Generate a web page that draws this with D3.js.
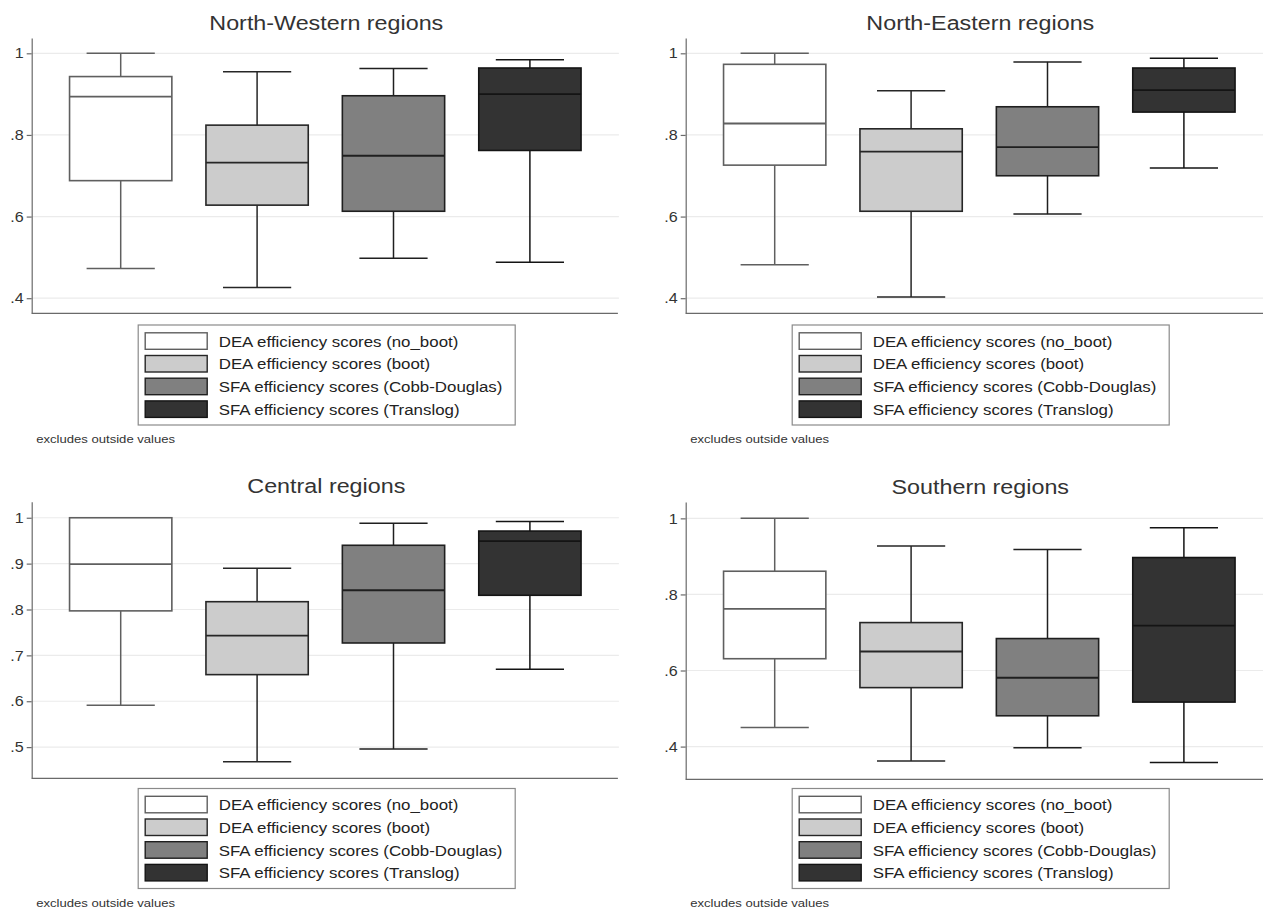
<!DOCTYPE html>
<html>
<head>
<meta charset="utf-8">
<script src="https://cdn.jsdelivr.net/npm/d3@7"></script>
<style>
  html, body { margin: 0; padding: 0; background: #fff; }
  svg { display: block; font-family: "Liberation Sans", Arial, sans-serif; }
</style>
</head>
<body>
<svg id="chart" width="1263" height="911"></svg>
<script>
// Efficiency score series (box order within each panel)
const seriesNames = [
  "DEA efficiency scores (no_boot)",
  "DEA efficiency scores (boot)",
  "SFA efficiency scores (Cobb-Douglas)",
  "SFA efficiency scores (Translog)"
];

const regionTitles = ["North-Western regions", "North-Eastern regions", "Central regions", "Southern regions"];

// Box statistics per series: [lower adjacent, q1, median, q3, upper adjacent]
const northWesternStats = [
  [0.473, 0.688, 0.894, 0.943, 1.000],
  [0.426, 0.628, 0.732, 0.824, 0.955],
  [0.498, 0.613, 0.749, 0.896, 0.963],
  [0.488, 0.762, 0.900, 0.964, 0.984]
];
const northEasternStats = [
  [0.482, 0.726, 0.828, 0.973, 1.000],
  [0.403, 0.613, 0.759, 0.815, 0.908],
  [0.606, 0.700, 0.770, 0.869, 0.979],
  [0.719, 0.856, 0.910, 0.964, 0.988]
];
const centralStats = [
  [0.591, 0.797, 0.899, 1.000, 1.000],
  [0.468, 0.658, 0.743, 0.817, 0.890],
  [0.496, 0.727, 0.842, 0.940, 0.988],
  [0.670, 0.831, 0.949, 0.971, 0.992]
];
const southernStats = [
  [0.450, 0.631, 0.762, 0.861, 1.000],
  [0.362, 0.555, 0.650, 0.726, 0.927],
  [0.397, 0.481, 0.581, 0.684, 0.918],
  [0.358, 0.517, 0.718, 0.897, 0.975]
];

// Y-axis tick values per panel
const ticksNorthWestern = [0.4, 0.6, 0.8, 1];
const ticksNorthEastern = [0.4, 0.6, 0.8, 1];
const ticksCentral = [0.5, 0.6, 0.7, 0.8, 0.9, 1];
const ticksSouthern = [0.4, 0.6, 0.8, 1];

const noteText = "excludes outside values";

// Fill / outline styling for each series
const styles = [
  { fill: "#ffffff", stroke: "#5f5f5f" },
  { fill: "#cccccc", stroke: "#262626" },
  { fill: "#808080", stroke: "#1f1f1f" },
  { fill: "#333333", stroke: "#141414" }
];

// Text is set slightly wide, as in the exported graph
const stretch = 1.11;

// Panel geometry
const panels = [
  { title: regionTitles[0], stats: northWesternStats, ticks: ticksNorthWestern,
    left: 31.7, top: 38, bottom: 313.3, domain: [0.363, 1.0375], titleY: 29.5, legendTop: 325, noteY: 443 },
  { title: regionTitles[1], stats: northEasternStats, ticks: ticksNorthEastern,
    left: 685.7, top: 38, bottom: 313.3, domain: [0.363, 1.0375], titleY: 29.5, legendTop: 325, noteY: 443 },
  { title: regionTitles[2], stats: centralStats, ticks: ticksCentral,
    left: 31.7, top: 501.7, bottom: 778.3, domain: [0.432, 1.035], titleY: 492.5, legendTop: 788.5, noteY: 907 },
  { title: regionTitles[3], stats: southernStats, ticks: ticksSouthern,
    left: 685.7, top: 502, bottom: 779.3, domain: [0.314, 1.043], titleY: 493.5, legendTop: 788.5, noteY: 907 }
];

const plotWidth = 587.2;
const svg = d3.select("#chart");

const tickFmt = d => d === 1 ? "1" : d3.format(".1f")(d).replace(/^0/, "");

// Places a horizontally stretched text at (x, y)
function wideText(sel, x, y) {
  return sel.append("text").attr("transform", `translate(${x},${y}) scale(${stretch},1)`);
}

panels.forEach(p => {
  const g = svg.append("g");
  const right = p.left + plotWidth;

  const x = d3.scalePoint()
    .domain(seriesNames)
    .range([p.left, right])
    .padding(0.6525);
  const y = d3.scaleLinear().domain(p.domain).range([p.bottom, p.top]);

  const boxW = x.step() * 0.75;
  const capW = x.step() * 0.5;

  // Title
  wideText(g, (p.left + right) / 2 + 1, p.titleY)
    .attr("text-anchor", "middle")
    .attr("font-size", 21)
    .attr("fill", "#333")
    .text(p.title);

  // Gridlines
  g.append("g").selectAll("line").data(p.ticks).join("line")
    .attr("x1", p.left).attr("x2", right)
    .attr("y1", d => y(d)).attr("y2", d => y(d))
    .attr("stroke", "#ebebeb").attr("stroke-width", 1.2);

  // Left axis
  const ax = g.append("g")
    .attr("transform", `translate(${p.left},0)`)
    .call(d3.axisLeft(y).tickValues(p.ticks).tickFormat(tickFmt).tickSize(5).tickSizeOuter(0));
  ax.select(".domain").attr("stroke", "#6a6a6a").attr("stroke-width", 1.2);
  ax.selectAll(".tick line").attr("stroke", "#6a6a6a").attr("stroke-width", 1.2);
  ax.selectAll(".tick text")
    .attr("font-size", 14.5)
    .attr("font-family", "Liberation Sans, Arial, sans-serif")
    .attr("fill", "#333")
    .attr("x", -8 / stretch)
    .attr("transform", `scale(${stretch},1)`);

  // Bottom axis line
  g.append("line")
    .attr("x1", p.left).attr("x2", right - 1)
    .attr("y1", p.bottom).attr("y2", p.bottom)
    .attr("stroke", "#6a6a6a").attr("stroke-width", 1.2);

  // Boxes
  const boxes = g.append("g").selectAll("g").data(p.stats).join("g");
  boxes.each(function (s, i) {
    const b = d3.select(this);
    const cx = x(seriesNames[i]);
    const st = styles[i];
    const [lo, q1, med, q3, hi] = s;
    // whiskers
    b.append("line").attr("x1", cx).attr("x2", cx).attr("y1", y(hi)).attr("y2", y(q3))
      .attr("stroke", st.stroke).attr("stroke-width", 1.5);
    b.append("line").attr("x1", cx).attr("x2", cx).attr("y1", y(q1)).attr("y2", y(lo))
      .attr("stroke", st.stroke).attr("stroke-width", 1.5);
    // caps
    [lo, hi].forEach(v => {
      b.append("line").attr("x1", cx - capW / 2).attr("x2", cx + capW / 2)
        .attr("y1", y(v)).attr("y2", y(v))
        .attr("stroke", st.stroke).attr("stroke-width", 1.5);
    });
    // box
    b.append("rect")
      .attr("x", cx - boxW / 2).attr("width", boxW)
      .attr("y", y(q3)).attr("height", y(q1) - y(q3))
      .attr("fill", st.fill).attr("stroke", st.stroke).attr("stroke-width", 1.6);
    // median
    b.append("line").attr("x1", cx - boxW / 2).attr("x2", cx + boxW / 2)
      .attr("y1", y(med)).attr("y2", y(med))
      .attr("stroke", st.stroke).attr("stroke-width", 1.8);
  });

  // Legend
  const lx = p.left + 106.5;
  const leg = g.append("g").attr("transform", `translate(${lx},${p.legendTop})`);
  leg.append("rect").attr("x", 0).attr("y", 0).attr("width", 377).attr("height", 100)
    .attr("fill", "#fff").attr("stroke", "#8a8a8a").attr("stroke-width", 1.2);
  const items = leg.selectAll("g.item").data(seriesNames).join("g")
    .attr("class", "item")
    .attr("transform", (d, i) => `translate(7,${7.8 + i * 22.7})`);
  items.append("rect").attr("width", 62).attr("height", 16.5)
    .attr("fill", (d, i) => styles[i].fill)
    .attr("stroke", (d, i) => styles[i].stroke).attr("stroke-width", 1.4);
  items.each(function (d) {
    wideText(d3.select(this), 73.5, 8.5)
      .attr("dy", "0.35em")
      .attr("font-size", 15.2).attr("fill", "#222").text(d);
  });

  // Note
  wideText(g, p.left + 4.5, p.noteY)
    .attr("font-size", 11.8).attr("fill", "#333").text(noteText);
});
</script>
</body>
</html>
